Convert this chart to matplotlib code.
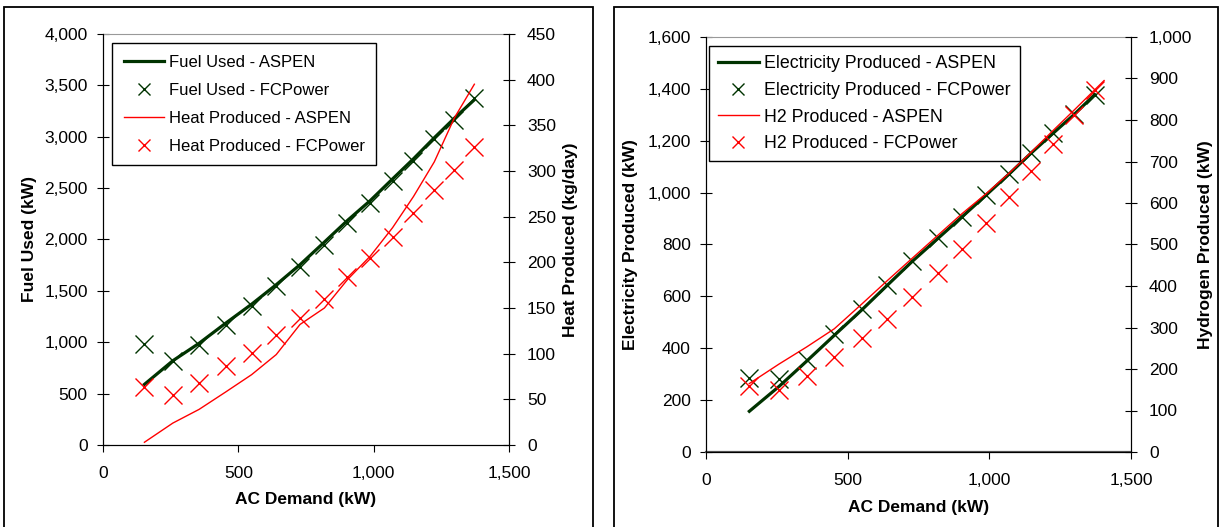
import numpy as np
import matplotlib.pyplot as plt
from matplotlib.patches import Rectangle
from matplotlib.ticker import FuncFormatter, MultipleLocator

plt.rcParams['font.family'] = ['Liberation Sans', 'DejaVu Sans']
plt.rcParams['font.size'] = 12.5

# AC demand (kW) used in both runs
ac_demand = [153, 258, 355, 453, 549, 640, 728, 818, 903, 988, 1070, 1147, 1224, 1298, 1372]

# left chart
fuel_aspen = [590, 820, 990, 1185, 1370, 1560, 1755, 1975, 2185, 2380, 2590, 2785, 2990, 3180, 3360]
fuel_fcpower = [985, 820, 970, 1170, 1355, 1545, 1735, 1950, 2160, 2360, 2570, 2760, 2975, 3165, 3380]
heat_aspen = [3, 24, 39, 58, 77, 99, 132, 150, 181, 207, 238, 272, 310, 358, 395]
heat_fcpower = [63, 55, 68, 86, 101, 120, 139, 160, 184, 205, 228, 254, 279, 301, 326]

# right chart
elec_aspen = [157, 253, 350, 450, 547, 643, 735, 823, 906, 990, 1072, 1152, 1228, 1300, 1378]
elec_fcpower = [284, 280, 355, 455, 551, 645, 735, 825, 907, 990, 1073, 1152, 1229, 1305, 1378]
h2_x = [153, 258, 355, 453, 549, 640, 728, 818, 903, 988, 1070, 1147, 1224, 1298, 1405]
h2_aspen = [165, 212, 253, 297, 356, 413, 467, 522, 574, 622, 672, 722, 774, 823, 895]
h2_fcpower = [158, 150, 184, 230, 274, 321, 373, 432, 490, 551, 614, 676, 743, 811, 872]

GREEN = '#003300'
RED = '#ff0000'
comma = FuncFormatter(lambda v, p: '{:,.0f}'.format(v))

fig = plt.figure(figsize=(12.25, 5.27), dpi=100)

# outer frames around each chart
fig.patches.append(Rectangle((4/1225, -0.02), 589/1225, 520/527 + 0.02, transform=fig.transFigure,
                             fill=False, edgecolor='black', linewidth=1.3))
fig.patches.append(Rectangle((614/1225, -0.02), 604/1225, 520/527 + 0.02, transform=fig.transFigure,
                             fill=False, edgecolor='black', linewidth=1.3))


def style(ax, ax2):
    ax.spines['top'].set_color('#999999')
    ax2.spines['top'].set_visible(False)
    ax.tick_params(axis='y', direction='inout', length=8, pad=7)
    ax.tick_params(axis='x', direction='out', length=5, pad=10)
    ax2.tick_params(axis='y', direction='inout', length=8, pad=9)
    ax.xaxis.set_major_formatter(comma)
    ax.yaxis.set_major_formatter(comma)
    ax2.yaxis.set_major_formatter(comma)
    ax.set_xlim(0, 1500)
    ax.xaxis.set_major_locator(MultipleLocator(500))


# ---- left: fuel and heat ----
ax1 = fig.add_axes([103/1225, 82/527, 406/1225, 411/527])
ax1b = ax1.twinx()
l1, = ax1.plot(ac_demand, fuel_aspen, color=GREEN, lw=2.3, label='Fuel Used - ASPEN')
m1, = ax1.plot(ac_demand, fuel_fcpower, 'x', color=GREEN, ms=13, mew=1.0, label='Fuel Used - FCPower')
l2, = ax1b.plot(ac_demand, heat_aspen, color=RED, lw=1.0, label='Heat Produced - ASPEN')
m2, = ax1b.plot(ac_demand, heat_fcpower, 'x', color=RED, ms=13, mew=1.0, label='Heat Produced - FCPower')
ax1.set_ylim(0, 4000)
ax1.yaxis.set_major_locator(MultipleLocator(500))
ax1b.set_ylim(0, 450)
ax1b.yaxis.set_major_locator(MultipleLocator(50))
style(ax1, ax1b)
ax1.set_xlabel('AC Demand (kW)', fontweight='bold')
ax1.set_ylabel('Fuel Used (kW)', fontweight='bold')
ax1b.set_ylabel('Heat Produced (kg/day)', fontweight='bold', rotation=90)
ax1.xaxis.set_label_coords(0.5, -0.114)
ax1.yaxis.set_label_coords(-0.163, 0.5)
ax1b.yaxis.set_label_coords(1.133, 0.5)
leg = ax1b.legend(handles=[l1, m1, l2, m2], loc='upper left', bbox_to_anchor=(0.022, 0.978),
                  borderaxespad=0, fancybox=False, edgecolor='black', framealpha=1,
                  handlelength=2.4, handletextpad=0.3, labelspacing=0.78, borderpad=0.7,
                  markerscale=0.7, fontsize=12)
leg.get_frame().set_linewidth(1.0)

# ---- right: electricity and hydrogen ----
ax2 = fig.add_axes([706/1225, 75/527, 425/1225, 415/527])
ax2b = ax2.twinx()
l3, = ax2.plot(ac_demand, elec_aspen, color=GREEN, lw=2.3, label='Electricity Produced - ASPEN')
m3, = ax2.plot(ac_demand, elec_fcpower, 'x', color=GREEN, ms=13, mew=1.0, label='Electricity Produced - FCPower')
l4, = ax2b.plot(h2_x, h2_aspen, color=RED, lw=1.0, label='H2 Produced - ASPEN')
m4, = ax2b.plot(ac_demand, h2_fcpower, 'x', color=RED, ms=13, mew=1.0, label='H2 Produced - FCPower')
ax2.set_ylim(0, 1600)
ax2.yaxis.set_major_locator(MultipleLocator(200))
ax2b.set_ylim(0, 1000)
ax2b.yaxis.set_major_locator(MultipleLocator(100))
style(ax2, ax2b)
ax2.spines['bottom'].set_color('#555555')
ax2.spines['bottom'].set_linewidth(1.6)
ax2.set_xlabel('AC Demand (kW)', fontweight='bold')
ax2.set_ylabel('Electricity Produced (kW)', fontweight='bold')
ax2b.set_ylabel('Hydrogen Produced (kW)', fontweight='bold', rotation=90)
ax2.xaxis.set_label_coords(0.5, -0.116)
ax2.yaxis.set_label_coords(-0.16, 0.5)
ax2b.yaxis.set_label_coords(1.158, 0.5)
leg2 = ax2b.legend(handles=[l3, m3, l4, m4], loc='upper left', bbox_to_anchor=(0.007, 0.978),
                   borderaxespad=0, fancybox=False, edgecolor='black', framealpha=1,
                   handlelength=2.3, handletextpad=0.3, labelspacing=0.55, borderpad=0.5,
                   markerscale=0.7, fontsize=12.8)
leg2.get_frame().set_linewidth(1.0)

fig.savefig('out.png', dpi=100)
